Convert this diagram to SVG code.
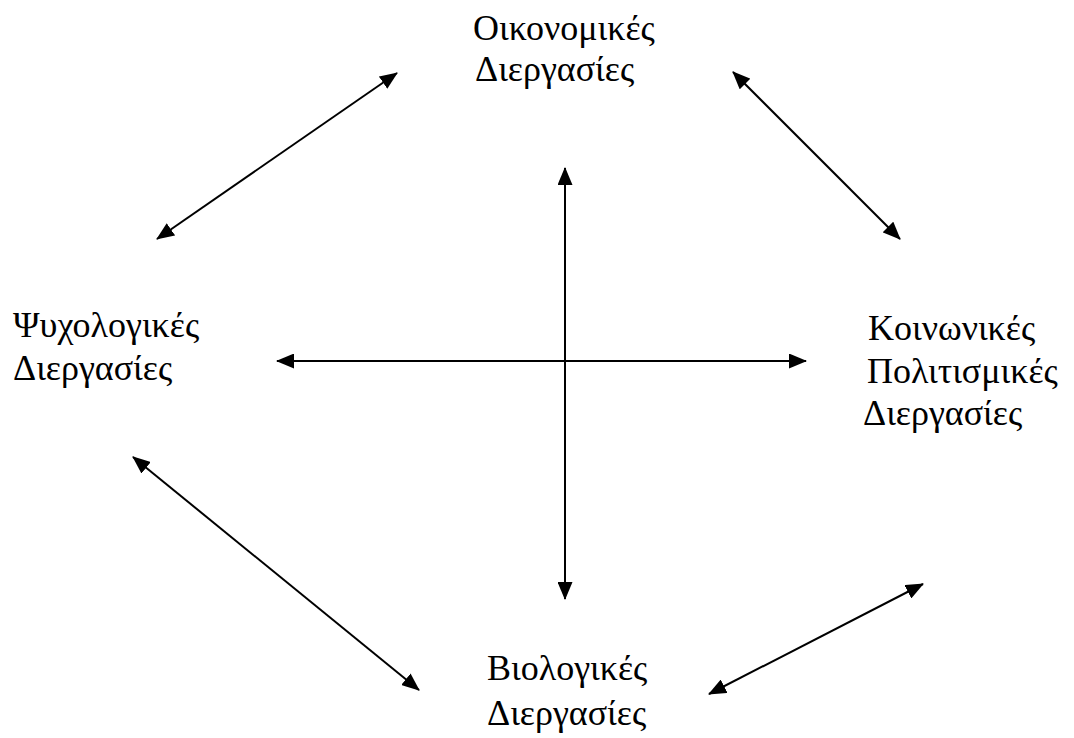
<svg xmlns="http://www.w3.org/2000/svg" width="1074" height="738" viewBox="0 0 1074 738">
<defs>
<style>
text{font-family:"Liberation Serif","Times New Roman",serif;font-size:36px;fill:#000}
.c line{stroke:#000;stroke-width:2;marker-start:url(#ah);marker-end:url(#ah)}
</style>
<marker id="ah" markerUnits="userSpaceOnUse" markerWidth="18" markerHeight="15" refX="17" refY="7.5" orient="auto-start-reverse" viewBox="0 0 18 15">
<path d="M0,0 L18,7.5 L0,15 z" fill="#000"/>
</marker>
</defs>
<rect width="1074" height="738" fill="#fff"/>
<g id="econ"><text x="473" y="40">Οικονομικές</text><text x="475" y="81">Διεργασίες</text></g>
<g id="psych"><text x="13" y="337">Ψυχολογικές</text><text x="13" y="380">Διεργασίες</text></g>
<g id="social"><text x="868" y="340">Κοινωνικές</text><text x="867" y="383">Πολιτισμικές</text><text x="863" y="425">Διεργασίες</text></g>
<g id="bio"><text x="487" y="680">Βιολογικές</text><text x="487" y="725">Διεργασίες</text></g>
<g class="c" id="connectors">
<line x1="157" y1="239" x2="397" y2="73"/>
<line x1="733" y1="72" x2="900" y2="239"/>
<line x1="277" y1="361" x2="806" y2="361"/>
<line x1="565" y1="168" x2="565" y2="599"/>
<line x1="133" y1="457" x2="419" y2="690"/>
<line x1="709" y1="694" x2="923" y2="584"/>
</g>
</svg>
